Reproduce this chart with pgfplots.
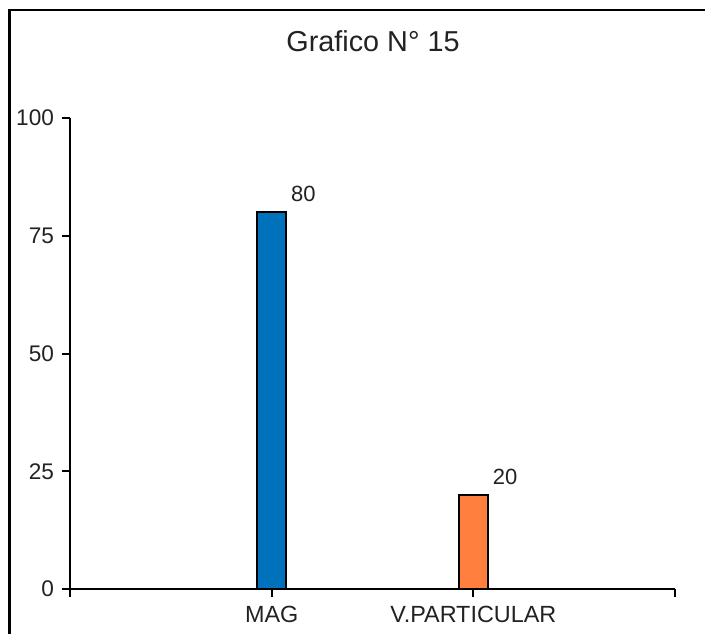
\documentclass[border=0pt]{standalone}
\usepackage{pgfplots}
\pgfplotsset{compat=1.18}
\usepackage{fontspec}
\setmainfont{Liberation Sans}
\definecolor{barblue}{HTML}{0072BC}
\definecolor{barorange}{HTML}{FF7F3F}
\definecolor{txt}{HTML}{222222}
\begin{document}
\begin{tikzpicture}
\useasboundingbox (0,0) rectangle (352.5pt,316.5pt);
\draw[line width=1.3pt, black] (352.5pt,311.5pt) -- (4.75pt,311.5pt) -- (4.75pt,-1pt);
\node[font=\fontsize{14.4}{16}\selectfont, text=txt, anchor=base] at (186.5pt,290.5pt) {Grafico N° 15};
\begin{axis}[
  at={(35pt,22pt)}, anchor=south west,
  scale only axis, width=302.5pt, height=235.5pt,
  xmin=0, xmax=3, ymin=0, ymax=100,
  axis x line*=bottom, axis y line*=left,
  axis line style={line width=1pt, black, -},
  tick style={line width=1pt, black},
  tick align=outside, major tick length=4pt,
  xtick={0,1,2,3}, xticklabels={,MAG,V.PARTICULAR,},
  ytick={0,25,50,75,100},
  ticklabel style={font=\fontsize{11.3}{13}\selectfont, text=txt},
  /pgf/number format/assume math mode=true,
  yticklabel style={xshift=-0.5pt},
  xticklabel style={yshift=-1pt, font=\fontsize{11.7}{13}\selectfont},
  ybar, bar width=14.5pt, bar shift=0pt,
  clip=false,
  nodes near coords,
  every node near coord/.append style={font=\fontsize{11}{13}\selectfont, text=txt, anchor=south west, xshift=6pt, yshift=1.5pt},
]
\addplot[fill=barblue, draw=black, line width=0.8pt] coordinates {(1,80)};
\addplot[fill=barorange, draw=black, line width=0.8pt] coordinates {(2,20)};
\end{axis}
\end{tikzpicture}
\end{document}
